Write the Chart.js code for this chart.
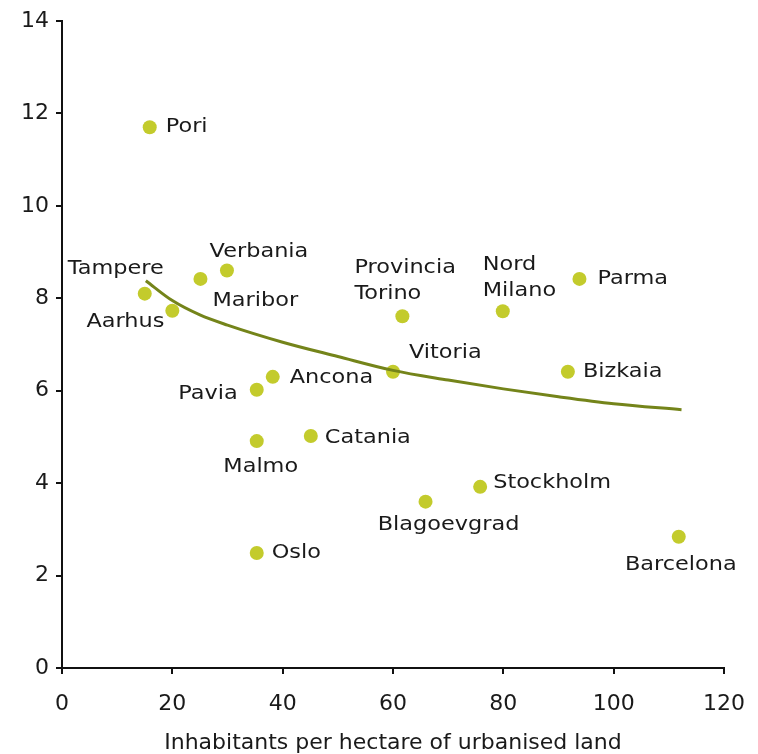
<!DOCTYPE html>
<html>
<head>
<meta charset="utf-8">
<script src="https://cdn.jsdelivr.net/npm/chart.js@4/dist/chart.umd.min.js"></script>
<style>
  html, body { margin: 0; padding: 0; background: #ffffff; }
  canvas { display: block; }
</style>
</head>
<body>
<canvas id="c" width="758" height="754"></canvas>
<script>
// Cities and their values
const cities = ['Pori', 'Tampere', 'Aarhus', 'Maribor', 'Verbania', 'Provincia Torino',
  'Nord Milano', 'Parma', 'Vitoria', 'Bizkaia', 'Ancona', 'Pavia', 'Catania', 'Malmo',
  'Oslo', 'Stockholm', 'Blagoevgrad', 'Barcelona'];
const inhabitantsPerHa = [15.9, 15.0, 20.0, 25.1, 29.9, 61.7,
  79.9, 93.8, 60.0, 91.7, 38.2, 35.3, 45.1, 35.3,
  35.3, 75.8, 65.9, 111.8];
const yValues = [11.7, 8.1, 7.73, 8.42, 8.6, 7.61,
  7.72, 8.42, 6.41, 6.41, 6.3, 6.02, 5.02, 4.91,
  2.49, 3.92, 3.6, 2.84];

// Trend curve sampled along its length
const trendX = [15.2, 20, 25, 30, 40, 50, 60, 70, 80, 90, 100, 112.3];
const trendY = [8.38, 7.95, 7.64, 7.42, 7.05, 6.74, 6.44, 6.23, 6.04, 5.87, 5.72, 5.59];

// Axis ticks
const xTicks = [0, 20, 40, 60, 80, 100, 120];
const yTicks = [0, 2, 4, 6, 8, 10, 12, 14];
const xTitle = 'Inhabitants per hectare of urbanised land';

// Label placement around each marker (pixel offsets, text alignment)
const labelPlacement = {
  'Pori':             { dx: 16,  dy: 0,   align: 'left' },
  'Tampere':          { dx: -29, dy: -25, align: 'center' },
  'Aarhus':           { dx: -8,  dy: 11,  align: 'right' },
  'Maribor':          { dx: 12,  dy: 22,  align: 'left' },
  'Verbania':         { dx: 32,  dy: -19, align: 'center' },
  'Provincia Torino': { dx: -48, dy: -49, align: 'left', split: true },
  'Nord Milano':      { dx: -20, dy: -46, align: 'left', split: true },
  'Parma':            { dx: 18,  dy: 0,   align: 'left' },
  'Vitoria':          { dx: 16,  dy: -19, align: 'left' },
  'Bizkaia':          { dx: 15,  dy: 0,   align: 'left' },
  'Ancona':           { dx: 17,  dy: 1,   align: 'left' },
  'Pavia':            { dx: -19, dy: 4,   align: 'right' },
  'Catania':          { dx: 14,  dy: 2,   align: 'left' },
  'Malmo':            { dx: 4,   dy: 26,  align: 'center' },
  'Oslo':             { dx: 15,  dy: 0,   align: 'left' },
  'Stockholm':        { dx: 13,  dy: -4,  align: 'left' },
  'Blagoevgrad':      { dx: 23,  dy: 23,  align: 'center' },
  'Barcelona':        { dx: 2,   dy: 28,  align: 'center' }
};

const FONT = '"DejaVu Sans", Verdana, sans-serif';
const TEXT_COLOR = '#1a1a1a';
const DOT_COLOR = '#c3cb2c';
const TREND_COLOR = '#74841a';
const LABEL_STRETCH = 1.12;

const cityLabels = {
  id: 'cityLabels',
  afterDatasetsDraw(chart) {
    const meta = chart.getDatasetMeta(0);
    const ctx = chart.ctx;
    ctx.save();
    ctx.font = '20px ' + FONT;
    ctx.fillStyle = TEXT_COLOR;
    ctx.textBaseline = 'middle';
    meta.data.forEach((pt, i) => {
      const name = cities[i];
      const p = labelPlacement[name] || { dx: 14, dy: 0, align: 'left' };
      const lines = p.split ? name.split(' ') : [name];
      lines.forEach((line, k) => {
        const w = ctx.measureText(line).width * LABEL_STRETCH;
        let x = pt.x + p.dx;
        if (p.align === 'center') x -= w / 2;
        else if (p.align === 'right') x -= w;
        const y = pt.y + p.dy + k * 26;
        ctx.save();
        ctx.translate(x, y);
        ctx.scale(LABEL_STRETCH, 1);
        ctx.textAlign = 'left';
        ctx.fillText(line, 0, 0);
        ctx.restore();
      });
    });
    ctx.restore();
  }
};

new Chart(document.getElementById('c'), {
  type: 'scatter',
  data: {
    datasets: [
      {
        data: inhabitantsPerHa.map((x, i) => ({ x, y: yValues[i] })),
        pointRadius: 7,
        pointHoverRadius: 7,
        pointBackgroundColor: DOT_COLOR,
        pointBorderWidth: 0,
        showLine: false,
        order: 2
      },
      {
        data: trendX.map((x, i) => ({ x, y: trendY[i] })),
        showLine: true,
        borderColor: TREND_COLOR,
        borderWidth: 3,
        pointRadius: 0,
        cubicInterpolationMode: 'monotone',
        fill: false,
        order: 1
      }
    ]
  },
  options: {
    responsive: false,
    animation: false,
    events: [],
    layout: { padding: { left: 0, top: 21, right: 34, bottom: 0 } },
    plugins: { legend: { display: false }, tooltip: { enabled: false } },
    scales: {
      x: {
        type: 'linear',
        min: 0, max: 120,
        afterFit: s => { s.height = 86; s.paddingLeft = 0; s.paddingRight = 0; },
        afterBuildTicks: s => { s.ticks = xTicks.map(v => ({ value: v })); },
        border: { display: true, color: '#111111', width: 2 },
        grid: { display: true, drawOnChartArea: false, drawTicks: true, tickLength: 6, color: '#111111', lineWidth: 2 },
        ticks: { color: TEXT_COLOR, font: { family: FONT, size: 22 }, padding: 17, maxRotation: 0 },
        title: { display: true, text: xTitle, color: TEXT_COLOR, font: { family: FONT, size: 22, lineHeight: 1 }, padding: { top: 6, bottom: 0 } }
      },
      y: {
        type: 'linear',
        min: 0, max: 14,
        afterFit: s => { s.width = 62; s.paddingTop = 0; s.paddingBottom = 0; },
        afterBuildTicks: s => { s.ticks = yTicks.map(v => ({ value: v })); },
        border: { display: true, color: '#111111', width: 2 },
        grid: { display: true, drawOnChartArea: false, drawTicks: true, tickLength: 6, color: '#111111', lineWidth: 2 },
        ticks: { color: TEXT_COLOR, font: { family: FONT, size: 22 }, padding: 7 }
      }
    }
  },
  plugins: [cityLabels]
});
</script>
</body>
</html>
